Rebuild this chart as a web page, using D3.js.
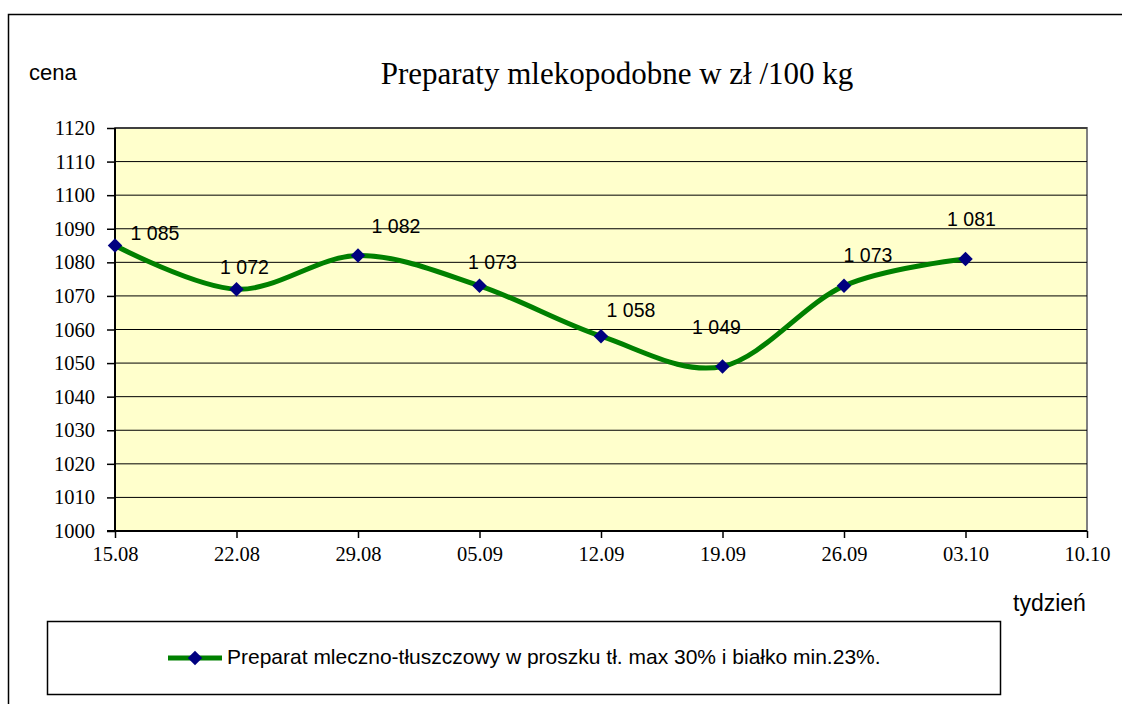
<!DOCTYPE html>
<html>
<head>
<meta charset="utf-8">
<script src="https://cdn.jsdelivr.net/npm/d3@7"></script>
<style>
  body { margin: 0; background: #fff; }
  svg { display: block; }
</style>
</head>
<body>
<script>
// dane
var weeks = ["15.08","22.08","29.08","05.09","12.09","19.09","26.09","03.10","10.10"];
var prices = [1085, 1072, 1082, 1073, 1058, 1049, 1073, 1081];
var yTicks = [1000,1010,1020,1030,1040,1050,1060,1070,1080,1090,1100,1110,1120];
var seriesName = "Preparat mleczno-tłuszczowy w proszku tł. max 30% i białko min.23%.";
// label nudges (px) relative to each point, like the hand-placed Excel labels
var labelDx = [40, 8, 38, 13, 30, -6, 24, 6];
var labelDy = [-11, -20, -28, -22, -24, -38, -29, -38];

var width = 1122, height = 704;
var plot = {left:115, right:1087, top:128, bottom:531};

var svg = d3.select("body").append("svg").attr("width",width).attr("height",height);

// outer frame (only left and top edges show)
svg.append("path")
	.attr("d","M8.5,704 L8.5,14.5 L1122,14.5")
	.attr("fill","none").attr("stroke","#000").attr("stroke-width",1.5);

var x = d3.scalePoint().domain(weeks).range([plot.left, plot.right]);
var y = d3.scaleLinear().domain([1000,1120]).range([plot.bottom, plot.top]);

svg.append("rect")
	.attr("x",plot.left).attr("y",plot.top)
	.attr("width",plot.right-plot.left).attr("height",plot.bottom-plot.top)
	.attr("fill","#FFFFCC").attr("stroke","#808080").attr("stroke-width",2);

// grid
svg.append("g").selectAll("line")
	.data(yTicks.slice(1))
	.enter().append("line")
		.attr("x1",plot.left).attr("x2",plot.right)
		.attr("y1",function(d){ return y(d); }).attr("y2",function(d){ return y(d); })
		.attr("stroke","#000").attr("stroke-width",1);

// axes
var yAxis = svg.append("g")
	.attr("transform","translate("+plot.left+",0)")
	.call(d3.axisLeft(y).tickValues(yTicks).tickSize(8).tickPadding(12).tickFormat(d3.format("d")));
var xAxis = svg.append("g")
	.attr("transform","translate(0,"+plot.bottom+")")
	.call(d3.axisBottom(x).tickSize(7).tickPadding(8));

[yAxis, xAxis].forEach(function(a){
	a.select(".domain").attr("stroke","#000").attr("stroke-width",2);
	a.selectAll(".tick line").attr("stroke","#000").attr("stroke-width",1.5);
	a.selectAll("text").attr("fill","#000")
		.style("font-family","'Liberation Serif','Times New Roman',serif")
		.style("font-size","20.5px");
});
yAxis.select(".domain").attr("d","M-8,"+plot.bottom+"H0V"+plot.top);
xAxis.select(".domain").attr("d","M"+plot.left+",0H"+plot.right);

// line
var line = d3.line()
	.x(function(d,i){ return x(weeks[i]); })
	.y(function(d){ return y(d); })
	.curve(d3.curveCatmullRom.alpha(0));

svg.append("path")
	.datum(prices)
	.attr("d",line)
	.attr("fill","none")
	.attr("stroke","#008000")
	.attr("stroke-width",5)
	.attr("stroke-linejoin","round");

// square turned 45 degrees = Excel diamond marker
var diamond = d3.symbol().type(d3.symbolSquare).size(105);

svg.append("g").selectAll("path")
	.data(prices)
	.enter().append("path")
		.attr("d",diamond)
		.attr("transform",function(d,i){ return "translate("+x(weeks[i])+","+y(d)+") rotate(45)"; })
		.attr("fill","#000080");

svg.append("g").selectAll("text")
	.data(prices)
	.enter().append("text")
		.attr("x",function(d,i){ return x(weeks[i])+labelDx[i]; })
		.attr("y",function(d,i){ return y(d)+labelDy[i]; })
		.attr("text-anchor","middle")
		.attr("dominant-baseline","middle")
		.style("font-family","'Liberation Sans',Arial,sans-serif")
		.style("font-size","19.5px")
		.attr("fill","#000")
		.text(function(d){ return d3.format(",")(d).replace(",", " "); });

// titles
svg.append("text")
	.attr("x",617).attr("y",84)
	.attr("text-anchor","middle")
	.style("font-family","'Liberation Serif','Times New Roman',serif")
	.style("font-size","31px")
	.text("Preparaty mlekopodobne w zł /100 kg");

svg.append("text")
	.attr("x",29).attr("y",80)
	.style("font-family","'Liberation Sans',Arial,sans-serif")
	.style("font-size","22px")
	.text("cena");

svg.append("text")
	.attr("x",1013).attr("y",611)
	.style("font-family","'Liberation Sans',Arial,sans-serif")
	.style("font-size","23px")
	.text("tydzień");

// legend
var legend = svg.append("g");
legend.append("rect")
	.attr("x",47.5).attr("y",621.5).attr("width",953).attr("height",73)
	.attr("fill","#fff").attr("stroke","#000").attr("stroke-width",1.5);
legend.append("line")
	.attr("x1",168).attr("x2",222).attr("y1",658).attr("y2",658)
	.attr("stroke","#008000").attr("stroke-width",5);
legend.append("path")
	.attr("d",diamond)
	.attr("transform","translate(195,658) rotate(45)")
	.attr("fill","#000080");
legend.append("text")
	.attr("x",227).attr("y",658)
	.attr("dominant-baseline","middle")
	.style("font-family","'Liberation Sans',Arial,sans-serif")
	.style("font-size","21px")
	.text(seriesName);
</script>
</body>
</html>
